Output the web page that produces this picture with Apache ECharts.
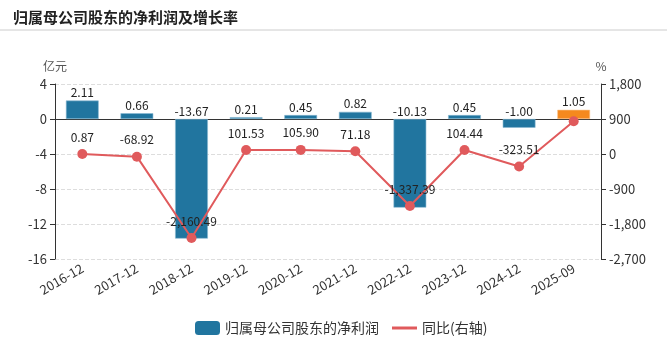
<!DOCTYPE html>
<html><head><meta charset="utf-8">
<script src="https://cdn.jsdelivr.net/npm/echarts@6/dist/echarts.min.js"></script>
<style>html,body{margin:0;padding:0;background:#fff}#c{width:667px;height:348px}</style>
</head><body><div id="c"></div>
<script>
var categories = ['2016-12','2017-12','2018-12','2019-12','2020-12','2021-12','2022-12','2023-12','2024-12','2025-09'];
var netProfit = [2.11, 0.66, -13.67, 0.21, 0.45, 0.82, -10.13, 0.45, -1.00, 1.05];
var yoy = [0.87, -68.92, -2160.49, 101.53, 105.90, 71.18, -1337.39, 104.44, -323.51, 840];
var leftTicks = [-16, 4, 4];
var rightTicks = [-2700, 1800, 900];
var yoyLabelShown = [true, true, true, true, true, true, true, true, true, false];

var chart = echarts.init(document.getElementById('c'));
var font = 'Microsoft YaHei, "Noto Sans CJK SC", sans-serif';
var lineColor = '#e05a5c';
chart.setOption({
  animation: false,
  textStyle: {fontFamily: font},
  title: {text: '归属母公司股东的净利润及增长率', left: 8, top: 5,
    textStyle: {fontSize: 15, fontWeight: 'bold', color: '#222', fontFamily: font}},
  graphic: [{type: 'line', shape: {x1: 0, y1: 30, x2: 667, y2: 30}, style: {stroke: '#ccc', lineWidth: 1}}],
  grid: {left: 55, right: 66, top: 84, bottom: 89},
  legend: [
    {left: 190, top: 316, itemWidth: 25, itemHeight: 14,
      textStyle: {fontSize: 14, color: '#333', fontFamily: font},
      data: [{name: '归属母公司股东的净利润', icon: 'roundRect', itemStyle: {color: '#21759f'}}]},
    {left: 387, top: 316, itemWidth: 25, itemHeight: 3,
      textStyle: {fontSize: 14, color: '#333', fontFamily: font},
      data: [{name: '同比(右轴)', icon: 'rect', itemStyle: {color: lineColor}}]}
  ],
  xAxis: {type: 'category', data: categories,
    axisLine: {lineStyle: {color: '#333'}},
    axisTick: {alignWithLabel: true, lineStyle: {color: '#333'}},
    axisLabel: {rotate: 30, color: '#333', fontSize: 13, interval: 0, margin: 8}},
  yAxis: [
    {type: 'value', min: leftTicks[0], max: leftTicks[1], interval: leftTicks[2], name: '亿元',
      nameGap: 12, nameTextStyle: {color: '#555', fontSize: 12},
      axisLine: {show: true, lineStyle: {color: '#333'}}, axisTick: {show: true},
      axisLabel: {color: '#333', fontSize: 13},
      splitLine: {lineStyle: {type: 'dashed', color: '#ddd'}}},
    {type: 'value', min: rightTicks[0], max: rightTicks[1], interval: rightTicks[2], name: '%',
      nameGap: 12, nameTextStyle: {color: '#555', fontSize: 12},
      axisLine: {show: true, lineStyle: {color: '#333'}}, axisTick: {show: true},
      axisLabel: {color: '#333', fontSize: 13},
      splitLine: {show: false}}
  ],
  series: [
    {name: '归属母公司股东的净利润', type: 'bar', barWidth: '60%', yAxisIndex: 0,
      data: netProfit.map(function (v, i) {
        return {value: v, itemStyle: {color: i === netProfit.length - 1 ? '#f5891e' : '#21759f',
          borderColor: i === netProfit.length - 1 ? '#fbc48c' : '#8ab8d2', borderWidth: 0.6}};
      }),
      label: {show: true, position: 'top', color: '#222', fontSize: 12, distance: 2,
        formatter: function (p) { return p.value.toFixed(2); }}},
    {name: '同比(右轴)', type: 'line', yAxisIndex: 1, symbol: 'circle', symbolSize: 10,
      itemStyle: {color: lineColor}, lineStyle: {color: lineColor, width: 2},
      data: yoy.map(function (v, i) { return {value: v, label: {show: yoyLabelShown[i]}}; }),
      label: {show: true, position: 'top', color: '#222', fontSize: 12, distance: 6,
        formatter: function (p) { return p.value.toLocaleString('en-US', {minimumFractionDigits: 2, maximumFractionDigits: 2}); }}}
  ]
});
</script></body></html>
